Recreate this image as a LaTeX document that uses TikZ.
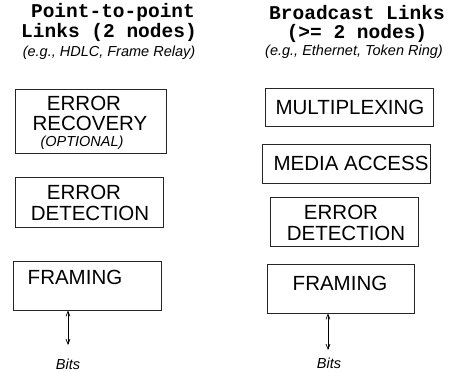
\documentclass[tikz,border=0pt]{standalone}
\usepackage{fontspec}
\setmainfont{Liberation Sans}
\setmonofont{Liberation Mono}
\usetikzlibrary{arrows.meta}
\tikzset{
  layer/.style={draw=black!85, line width=0.8pt, inner sep=0pt},
  lbl/.style={inner sep=0pt, font=\fontsize{20.5}{24}\selectfont},
  head/.style={inner sep=0pt, font=\fontsize{19.5}{22}\selectfont\ttfamily\bfseries},
  note/.style={inner sep=0pt, font=\fontsize{14.5}{17}\selectfont\itshape},
  bitlink/.style={line width=0.7pt, {Straight Barb[length=5pt,width=4pt]}-{Straight Barb[length=5pt,width=4pt]}}
}
\begin{document}
\begin{tikzpicture}[x=1pt, y=-1pt]
\useasboundingbox (0,0) rectangle (456,372);

% ---- point-to-point column ----
\node[head] (ptpA) at (113,12) {Point-to-point};
\node[head] (ptpB) at (109,32) {Links (2 nodes)};
\node[note] (ptpEg) at (109,53) {(e.g., HDLC, Frame Relay)};

\node[layer, minimum width=151pt, minimum height=64pt] (recL) at (90.5,121) {};
\node[lbl] (recL1) at (84,103) {ERROR};
\node[lbl] (recL2) at (90,123) {RECOVERY};
\node[note] (recL3) at (82,143) {(OPTIONAL)};

\node[layer, minimum width=148pt, minimum height=50pt] (detL) at (89,202) {};
\node[lbl] (detL1) at (84,192) {ERROR};
\node[lbl] (detL2) at (90,213) {DETECTION};

\node[layer, minimum width=148pt, minimum height=49pt] (frmL) at (87,285.5) {};
\node[lbl] (frmL1) at (75,277) {FRAMING};

\node[note] (bitsL) at (68,364) {Bits};
\coordinate (endL) at (68,345);
\draw[bitlink] (frmL.south -| endL) -- (endL);

% ---- broadcast column ----
\node[head] (bcA) at (357,13) {Broadcast Links};
\node[head] (bcB) at (357,33) {(>= 2 nodes)};
\node[note] (bcEg) at (354,52) {(e.g., Ethernet, Token Ring)};

\node[layer, minimum width=168pt, minimum height=38pt] (mux) at (349,107) {};
\node[lbl] (mux1) at (350,107) {MULTIPLEXING};

\node[layer, minimum width=168pt, minimum height=39pt] (mac) at (346,163.5) {};
\node[lbl] (mac1) at (351,163) {MEDIA ACCESS};

\node[layer, minimum width=148pt, minimum height=49pt] (detR) at (344,221.5) {};
\node[lbl] (detR1) at (341,212) {ERROR};
\node[lbl] (detR2) at (346,233) {DETECTION};

\node[layer, minimum width=147pt, minimum height=49pt] (frmR) at (340.5,288.5) {};
\node[lbl] (frmR1) at (340,283) {FRAMING};

\node[note] (bitsR) at (329,363) {Bits};
\coordinate (endR) at (328,350);
\draw[bitlink] (frmR.south -| endR) -- (endR);
\end{tikzpicture}
\end{document}
